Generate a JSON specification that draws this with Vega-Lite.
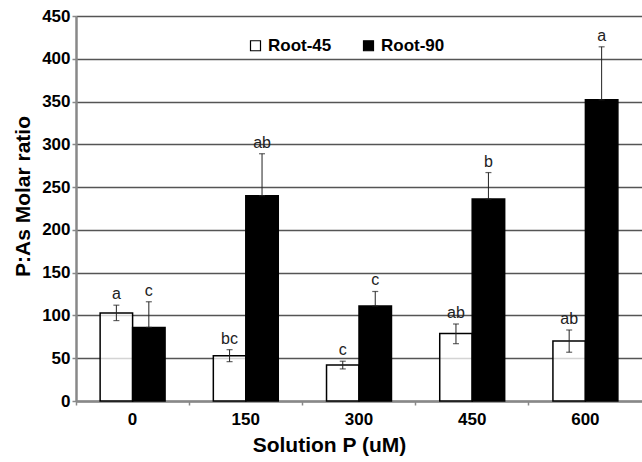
{
  "$schema": "https://vega.github.io/schema/vega-lite/v6.json",
  "width": 566,
  "height": 385,
  "autosize": {"type": "none"},
  "padding": {"left": 76, "top": 16, "right": 0, "bottom": 61},
  "background": "white",
  "config": {
    "font": "Liberation Sans",
    "view": {"stroke": null},
    "axis": {"labelFont": "Liberation Sans", "titleFont": "Liberation Sans", "labelColor": "black", "titleColor": "black"}
  },
  "data": {
    "values": [
      {"P": "0", "series": "Root-45", "value": 103, "lo": 94, "hi": 112, "letter": "a"},
      {"P": "150", "series": "Root-45", "value": 53, "lo": 46, "hi": 60, "letter": "bc"},
      {"P": "300", "series": "Root-45", "value": 42, "lo": 37.5, "hi": 46.5, "letter": "c"},
      {"P": "450", "series": "Root-45", "value": 79, "lo": 67, "hi": 90, "letter": "ab"},
      {"P": "600", "series": "Root-45", "value": 70, "lo": 57, "hi": 83, "letter": "ab"},
      {"P": "0", "series": "Root-90", "value": 86, "lo": 86, "hi": 116, "letter": "c"},
      {"P": "150", "series": "Root-90", "value": 240, "lo": 240, "hi": 289, "letter": "ab"},
      {"P": "300", "series": "Root-90", "value": 111, "lo": 111, "hi": 128, "letter": "c"},
      {"P": "450", "series": "Root-90", "value": 236, "lo": 236, "hi": 267, "letter": "b"},
      {"P": "600", "series": "Root-90", "value": 352, "lo": 352, "hi": 414, "letter": "a"}
    ]
  },
  "encoding": {
    "x": {
      "field": "P", "type": "ordinal", "sort": ["0", "150", "300", "450", "600"],
      "scale": {"paddingInner": 0, "paddingOuter": 0},
      "axis": {
        "title": "Solution P (uM)", "titleFontSize": 21, "titleFontWeight": "bold", "titlePadding": 7, "titleX": 253,
        "labelFontSize": 17, "labelFontWeight": "bold", "labelAngle": 0, "labelPadding": 6,
        "bandPosition": 0,
        "domainColor": "#888", "domainWidth": 2.5, "tickColor": "#888", "tickSize": 4, "tickWidth": 1.5
      }
    },
    "xOffset": {
      "field": "series", "type": "nominal",
      "scale": {"paddingInner": 0, "paddingOuter": 0.743}
    }
  },
  "layer": [
    {
      "mark": {"type": "bar", "stroke": "black", "strokeWidth": 1.5},
      "encoding": {
        "y": {
          "field": "value", "type": "quantitative",
          "scale": {"domain": [0, 450], "nice": false},
          "axis": {
            "title": "P:As Molar ratio", "titleFontSize": 21, "titleFontWeight": "bold", "titlePadding": 8, "titleY": 180,
            "labelFontSize": 17, "labelFontWeight": "bold", "values": [0, 50, 100, 150, 200, 250, 300, 350, 400, 450],
            "grid": true, "gridColor": "#555", "gridWidth": 1.5,
            "domainColor": "#888", "domainWidth": 2.5, "tickColor": "#888", "tickSize": 4, "tickWidth": 1.5, "labelPadding": 2
          }
        },
        "fill": {
          "field": "series", "type": "nominal",
          "scale": {"domain": ["Root-45", "Root-90"], "range": ["#ffffff", "#000000"]},
          "legend": {
            "title": null, "orient": "none", "legendX": 171, "legendY": 21, "direction": "horizontal",
            "symbolType": "square", "symbolSize": 100, "symbolStrokeColor": "black", "symbolStrokeWidth": 1.2,
            "labelFontSize": 17, "labelFontWeight": "bold", "labelFont": "Liberation Sans", "labelColor": "black",
            "columnPadding": 28, "labelOffset": 4
          }
        },
        "fillOpacity": {
          "field": "series", "type": "nominal",
          "scale": {"domain": ["Root-45", "Root-90"], "range": [0.75, 1]},
          "legend": null
        }
      }
    },
    {
      "mark": {"type": "rule", "color": "#222", "strokeWidth": 1},
      "encoding": {
        "y": {"field": "lo", "type": "quantitative"},
        "y2": {"field": "hi"}
      }
    },
    {
      "mark": {"type": "tick", "color": "#222", "size": 6, "thickness": 1.2},
      "encoding": {"y": {"field": "hi", "type": "quantitative"}}
    },
    {
      "mark": {"type": "tick", "color": "#222", "size": 6, "thickness": 1.2},
      "encoding": {"y": {"field": "lo", "type": "quantitative"}}
    },
    {
      "mark": {"type": "text", "fontSize": 16, "color": "#222", "baseline": "middle", "dy": -11, "font": "Liberation Sans"},
      "encoding": {
        "y": {"field": "hi", "type": "quantitative"},
        "text": {"field": "letter"}
      }
    }
  ]
}
